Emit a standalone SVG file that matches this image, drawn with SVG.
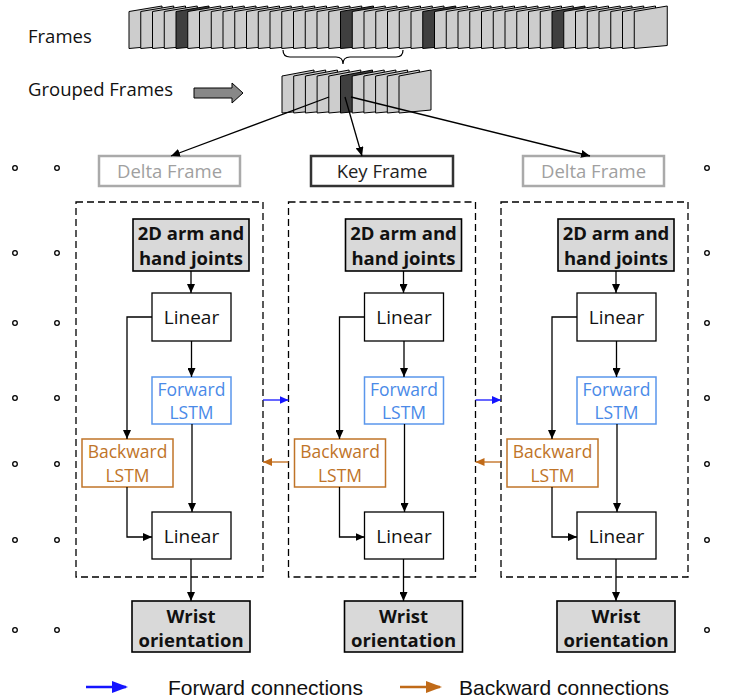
<svg xmlns="http://www.w3.org/2000/svg" width="745" height="700" viewBox="0 0 745 700">
<defs>
<style>
.fr{fill:#cdcdcd;stroke:#000;stroke-width:1;stroke-linejoin:round}
.dk{fill:#3f3f3f;stroke:#000;stroke-width:1;stroke-linejoin:round}
.t{font-family:"Open Sans","Noto Sans","DejaVu Sans",sans-serif;text-anchor:middle}
.lab{font-family:"Open Sans","Noto Sans","DejaVu Sans",sans-serif;font-size:18.5px;fill:#111}
.cont{fill:none;stroke:#000;stroke-width:1.3;stroke-dasharray:7,4}
.gbox{fill:#d9d9d9;stroke:#000;stroke-width:1.6}
.wbox{fill:#fff;stroke:#000;stroke-width:1.3}
.fbox{fill:#fff;stroke:#5a96ec;stroke-width:1.5}
.bbox{fill:#fff;stroke:#c07428;stroke-width:1.5}
.bold{font-size:18.5px;font-weight:bold;fill:#111}
.lin{font-size:19px;fill:#111}
.fw{font-size:17.5px;fill:#4a8ae8}
.bw{font-size:17.5px;fill:#c07428}
.c{fill:none;stroke:#000;stroke-width:1.3;marker-end:url(#ah)}
.cb{fill:none;stroke:#1515ff;stroke-width:1.3;marker-end:url(#ahb)}
.co{fill:none;stroke:#c06a18;stroke-width:1.3;marker-end:url(#aho)}
.dot{fill:#fff;stroke:#000;stroke-width:1.3}
.leg{font-family:"Liberation Sans",Arial,sans-serif;font-size:21px;fill:#111}
</style>
<marker id="ah" markerWidth="9" markerHeight="8" refX="9" refY="4" orient="auto" markerUnits="userSpaceOnUse"><path d="M0,0 L9,4 L0,8 z" fill="#000"/></marker>
<marker id="ahb" markerWidth="9" markerHeight="8" refX="9" refY="4" orient="auto" markerUnits="userSpaceOnUse"><path d="M0,0 L9,4 L0,8 z" fill="#1515ff"/></marker>
<marker id="aho" markerWidth="9" markerHeight="8" refX="9" refY="4" orient="auto" markerUnits="userSpaceOnUse"><path d="M0,0 L9,4 L0,8 z" fill="#c06a18"/></marker>
<marker id="ahbL" markerWidth="16" markerHeight="12" refX="14" refY="6" orient="auto" markerUnits="userSpaceOnUse"><path d="M0,0 L16,6 L0,12 z" fill="#1515ff"/></marker>
<marker id="ahoL" markerWidth="16" markerHeight="12" refX="14" refY="6" orient="auto" markerUnits="userSpaceOnUse"><path d="M0,0 L16,6 L0,12 z" fill="#c06a18"/></marker>
</defs>
<rect width="745" height="700" fill="#fff"/>

<g id="labels">
<text class="lab" x="28" y="43">Frames</text>
<text class="lab" x="28" y="96">Grouped Frames</text>
</g>

<g id="frames">
<polygon class="fr" points="129,11.5 162,6 162,45.5 129,48.5"/>
<polygon class="fr" points="140.75,11.5 173.75,6 173.75,45.5 140.75,48.5"/>
<polygon class="fr" points="152.5,11.5 185.5,6 185.5,45.5 152.5,48.5"/>
<polygon class="fr" points="164.25,11.5 197.25,6 197.25,45.5 164.25,48.5"/>
<polygon class="dk" points="176,11.5 209,6 209,45.5 176,48.5"/>
<polygon class="fr" points="187.75,11.5 220.75,6 220.75,45.5 187.75,48.5"/>
<polygon class="fr" points="199.5,11.5 232.5,6 232.5,45.5 199.5,48.5"/>
<polygon class="fr" points="211.25,11.5 244.25,6 244.25,45.5 211.25,48.5"/>
<polygon class="fr" points="223,11.5 256,6 256,45.5 223,48.5"/>
<polygon class="fr" points="234.75,11.5 267.75,6 267.75,45.5 234.75,48.5"/>
<polygon class="fr" points="246.5,11.5 279.5,6 279.5,45.5 246.5,48.5"/>
<polygon class="fr" points="258.25,11.5 291.25,6 291.25,45.5 258.25,48.5"/>
<polygon class="fr" points="270,11.5 303,6 303,45.5 270,48.5"/>
<polygon class="fr" points="281.75,11.5 314.75,6 314.75,45.5 281.75,48.5"/>
<polygon class="fr" points="293.5,11.5 326.5,6 326.5,45.5 293.5,48.5"/>
<polygon class="fr" points="305.25,11.5 338.25,6 338.25,45.5 305.25,48.5"/>
<polygon class="fr" points="317,11.5 350,6 350,45.5 317,48.5"/>
<polygon class="fr" points="328.75,11.5 361.75,6 361.75,45.5 328.75,48.5"/>
<polygon class="dk" points="340.5,11.5 373.5,6 373.5,45.5 340.5,48.5"/>
<polygon class="fr" points="352.25,11.5 385.25,6 385.25,45.5 352.25,48.5"/>
<polygon class="fr" points="364,11.5 397,6 397,45.5 364,48.5"/>
<polygon class="fr" points="375.75,11.5 408.75,6 408.75,45.5 375.75,48.5"/>
<polygon class="fr" points="387.5,11.5 420.5,6 420.5,45.5 387.5,48.5"/>
<polygon class="fr" points="399.25,11.5 432.25,6 432.25,45.5 399.25,48.5"/>
<polygon class="fr" points="411,11.5 444,6 444,45.5 411,48.5"/>
<polygon class="dk" points="422.75,11.5 455.75,6 455.75,45.5 422.75,48.5"/>
<polygon class="fr" points="434.5,11.5 467.5,6 467.5,45.5 434.5,48.5"/>
<polygon class="fr" points="446.25,11.5 479.25,6 479.25,45.5 446.25,48.5"/>
<polygon class="fr" points="458,11.5 491,6 491,45.5 458,48.5"/>
<polygon class="fr" points="469.75,11.5 502.75,6 502.75,45.5 469.75,48.5"/>
<polygon class="fr" points="481.5,11.5 514.5,6 514.5,45.5 481.5,48.5"/>
<polygon class="fr" points="493.25,11.5 526.25,6 526.25,45.5 493.25,48.5"/>
<polygon class="fr" points="505,11.5 538,6 538,45.5 505,48.5"/>
<polygon class="fr" points="516.75,11.5 549.75,6 549.75,45.5 516.75,48.5"/>
<polygon class="fr" points="528.5,11.5 561.5,6 561.5,45.5 528.5,48.5"/>
<polygon class="fr" points="540.25,11.5 573.25,6 573.25,45.5 540.25,48.5"/>
<polygon class="dk" points="552,11.5 585,6 585,45.5 552,48.5"/>
<polygon class="fr" points="563.75,11.5 596.75,6 596.75,45.5 563.75,48.5"/>
<polygon class="fr" points="575.5,11.5 608.5,6 608.5,45.5 575.5,48.5"/>
<polygon class="fr" points="587.25,11.5 620.25,6 620.25,45.5 587.25,48.5"/>
<polygon class="fr" points="599,11.5 632,6 632,45.5 599,48.5"/>
<polygon class="fr" points="610.75,11.5 643.75,6 643.75,45.5 610.75,48.5"/>
<polygon class="fr" points="622.5,11.5 655.5,6 655.5,45.5 622.5,48.5"/>
<polygon class="fr" points="634.25,11.5 667.25,6 667.25,45.5 634.25,48.5"/>
</g>

<g id="brace">
<path d="M283,50 Q283,57 290,57 L336,57 Q343,57 343,64 Q343,57 350,57 L396,57 Q403,57 403,50" fill="none" stroke="#000" stroke-width="1.2"/>
</g>

<g id="grouped">
<polygon class="fr" points="282,76 314,70 314,110 282,113"/>
<polygon class="fr" points="293.7,76 325.7,70 325.7,110 293.7,113"/>
<polygon class="fr" points="305.4,76 337.4,70 337.4,110 305.4,113"/>
<polygon class="fr" points="317.1,76 349.1,70 349.1,110 317.1,113"/>
<polygon class="fr" points="328.8,76 360.8,70 360.8,110 328.8,113"/>
<polygon class="dk" points="340.5,76 372.5,70 372.5,110 340.5,113"/>
<polygon class="fr" points="352.2,76 384.2,70 384.2,110 352.2,113"/>
<polygon class="fr" points="363.9,76 395.9,70 395.9,110 363.9,113"/>
<polygon class="fr" points="375.6,76 407.6,70 407.6,110 375.6,113"/>
<polygon class="fr" points="387.3,76 419.3,70 419.3,110 387.3,113"/>
<polygon class="fr" points="399,76 431,70 431,110 399,113"/>
</g>

<g id="group-arrow">
<path d="M194,88 H232 V83 L243,93 L232,103 V98 H194 Z" fill="#888" stroke="#000" stroke-width="1"/>
</g>

<g id="dots">
<circle class="dot" cx="15" cy="168" r="2.3"/><circle class="dot" cx="57" cy="168" r="2.3"/><circle class="dot" cx="707" cy="168" r="2.3"/>
<circle class="dot" cx="15" cy="253" r="2.3"/><circle class="dot" cx="57" cy="253" r="2.3"/><circle class="dot" cx="707" cy="253" r="2.3"/>
<circle class="dot" cx="15" cy="323" r="2.3"/><circle class="dot" cx="57" cy="323" r="2.3"/><circle class="dot" cx="707" cy="323" r="2.3"/>
<circle class="dot" cx="15" cy="398" r="2.3"/><circle class="dot" cx="57" cy="398" r="2.3"/><circle class="dot" cx="707" cy="398" r="2.3"/>
<circle class="dot" cx="15" cy="464" r="2.3"/><circle class="dot" cx="57" cy="464" r="2.3"/><circle class="dot" cx="707" cy="464" r="2.3"/>
<circle class="dot" cx="15" cy="540" r="2.3"/><circle class="dot" cx="57" cy="540" r="2.3"/><circle class="dot" cx="707" cy="540" r="2.3"/>
<circle class="dot" cx="15" cy="630" r="2.3"/><circle class="dot" cx="57" cy="630" r="2.3"/><circle class="dot" cx="707" cy="630" r="2.3"/>
</g>

<g id="delta-frame-left">
<rect x="99" y="156" width="141" height="30" fill="#fff" stroke="#aaa" stroke-width="2.5"/>
<text class="t" x="169.5" y="178" font-size="18.5" fill="#a0a0a0">Delta Frame</text>
</g>
<g id="key-frame">
<rect x="311" y="156" width="142" height="30" fill="#fff" stroke="#333" stroke-width="2.5"/>
<text class="t" x="382" y="178" font-size="18.5" fill="#222">Key Frame</text>
</g>
<g id="delta-frame-right">
<rect x="523" y="156" width="141" height="30" fill="#fff" stroke="#aaa" stroke-width="2.5"/>
<text class="t" x="593.5" y="178" font-size="18.5" fill="#a0a0a0">Delta Frame</text>
</g>

<g id="col0" transform="translate(0,0)">
<g id="container-0"><rect class="cont" x="76" y="202" width="187" height="375"/></g>
<g id="joints-0"><rect class="gbox" x="133" y="219" width="116" height="52"/><text class="t bold" x="191" y="240">2D arm and</text><text class="t bold" x="191" y="265">hand joints</text></g>
<g id="linear1-0"><rect class="wbox" x="152" y="293" width="79" height="48"/><text class="t lin" x="191.5" y="324">Linear</text></g>
<g id="forward-0"><rect class="fbox" x="152" y="377" width="79" height="47"/><text class="t fw" x="191.5" y="396">Forward</text><text class="t fw" x="191.5" y="419">LSTM</text></g>
<g id="backward-0"><rect class="bbox" x="82" y="439" width="91" height="48"/><text class="t bw" x="127.5" y="458">Backward</text><text class="t bw" x="127.5" y="482">LSTM</text></g>
<g id="linear2-0"><rect class="wbox" x="152" y="512" width="79" height="47"/><text class="t lin" x="191.5" y="543">Linear</text></g>
<g id="wrist-0"><rect class="gbox" x="132" y="601" width="118" height="51"/><text class="t bold" x="191" y="623">Wrist</text><text class="t bold" x="191" y="647">orientation</text></g>
</g>

<g id="col1" transform="translate(212.5,0)">
<g id="container-1"><rect class="cont" x="76" y="202" width="187" height="375"/></g>
<g id="joints-1"><rect class="gbox" x="133" y="219" width="116" height="52"/><text class="t bold" x="191" y="240">2D arm and</text><text class="t bold" x="191" y="265">hand joints</text></g>
<g id="linear1-1"><rect class="wbox" x="152" y="293" width="79" height="48"/><text class="t lin" x="191.5" y="324">Linear</text></g>
<g id="forward-1"><rect class="fbox" x="152" y="377" width="79" height="47"/><text class="t fw" x="191.5" y="396">Forward</text><text class="t fw" x="191.5" y="419">LSTM</text></g>
<g id="backward-1"><rect class="bbox" x="82" y="439" width="91" height="48"/><text class="t bw" x="127.5" y="458">Backward</text><text class="t bw" x="127.5" y="482">LSTM</text></g>
<g id="linear2-1"><rect class="wbox" x="152" y="512" width="79" height="47"/><text class="t lin" x="191.5" y="543">Linear</text></g>
<g id="wrist-1"><rect class="gbox" x="132" y="601" width="118" height="51"/><text class="t bold" x="191" y="623">Wrist</text><text class="t bold" x="191" y="647">orientation</text></g>
</g>

<g id="col2" transform="translate(425,0)">
<g id="container-2"><rect class="cont" x="76" y="202" width="187" height="375"/></g>
<g id="joints-2"><rect class="gbox" x="133" y="219" width="116" height="52"/><text class="t bold" x="191" y="240">2D arm and</text><text class="t bold" x="191" y="265">hand joints</text></g>
<g id="linear1-2"><rect class="wbox" x="152" y="293" width="79" height="48"/><text class="t lin" x="191.5" y="324">Linear</text></g>
<g id="forward-2"><rect class="fbox" x="152" y="377" width="79" height="47"/><text class="t fw" x="191.5" y="396">Forward</text><text class="t fw" x="191.5" y="419">LSTM</text></g>
<g id="backward-2"><rect class="bbox" x="82" y="439" width="91" height="48"/><text class="t bw" x="127.5" y="458">Backward</text><text class="t bw" x="127.5" y="482">LSTM</text></g>
<g id="linear2-2"><rect class="wbox" x="152" y="512" width="79" height="47"/><text class="t lin" x="191.5" y="543">Linear</text></g>
<g id="wrist-2"><rect class="gbox" x="132" y="601" width="118" height="51"/><text class="t bold" x="191" y="623">Wrist</text><text class="t bold" x="191" y="647">orientation</text></g>
</g>

<g id="connectors">
<path class="c" d="M329,97 L171,156"/>
<path class="c" d="M345,97 L362,156"/>
<path class="c" d="M351,97 L590,156"/>
<g transform="translate(0,0)">
<path class="c" d="M191,271 V293"/><path class="c" d="M191.5,341 V377"/><path class="c" d="M152,317 H127 V439"/><path class="c" d="M192,424 V512"/><path class="c" d="M127,487 V537 H152"/><path class="c" d="M191,559 V601"/>
<path class="cb" d="M263,400 H288.5"/><path class="co" d="M288.5,462 H263"/>
</g>
<g transform="translate(212.5,0)">
<path class="c" d="M191,271 V293"/><path class="c" d="M191.5,341 V377"/><path class="c" d="M152,317 H127 V439"/><path class="c" d="M192,424 V512"/><path class="c" d="M127,487 V537 H152"/><path class="c" d="M191,559 V601"/>
<path class="cb" d="M263,400 H288.5"/><path class="co" d="M288.5,462 H263"/>
</g>
<g transform="translate(425,0)">
<path class="c" d="M191,271 V293"/><path class="c" d="M191.5,341 V377"/><path class="c" d="M152,317 H127 V439"/><path class="c" d="M192,424 V512"/><path class="c" d="M127,487 V537 H152"/><path class="c" d="M191,559 V601"/>
</g>
</g>

<g id="legend">
<path d="M86,687 H126" fill="none" stroke="#1515ff" stroke-width="2.5" marker-end="url(#ahbL)"/>
<text class="leg" x="168" y="695">Forward connections</text>
<path d="M400,687 H440" fill="none" stroke="#c06a18" stroke-width="2.5" marker-end="url(#ahoL)"/>
<text class="leg" x="459" y="695">Backward connections</text>
</g>
</svg>
